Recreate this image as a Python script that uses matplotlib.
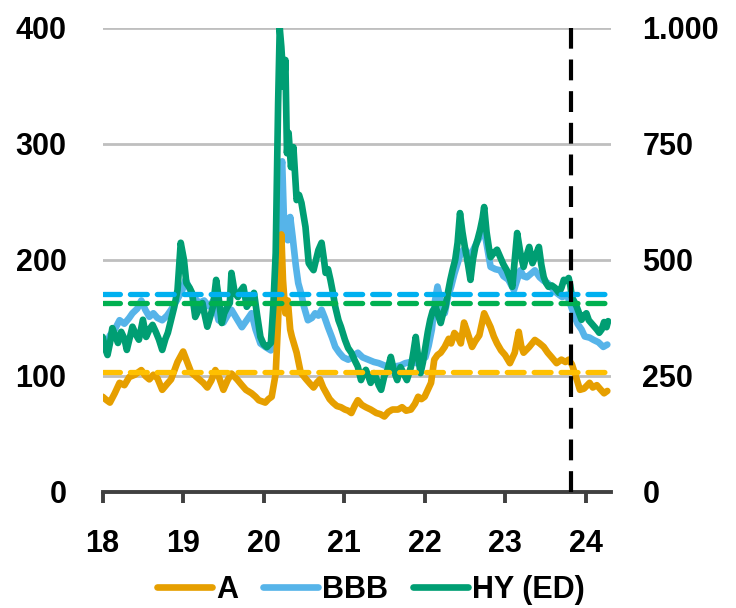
import matplotlib.pyplot as plt

plt.rcParams['font.family'] = ['Liberation Sans', 'DejaVu Sans']
plt.rcParams['font.weight'] = 'bold'

# A (left axis, bp)
a_years = [18.00, 18.05, 18.09, 18.15, 18.21, 18.27, 18.33, 18.40, 18.48, 18.53, 18.58, 18.63, 18.68,
           18.74, 18.80, 18.85, 18.93, 19.00, 19.05, 19.10, 19.15, 19.20, 19.25, 19.30, 19.35, 19.40,
           19.45, 19.50, 19.55, 19.60, 19.67, 19.73, 19.78, 19.85, 19.90, 19.94, 20.02, 20.06, 20.10,
           20.15, 20.18, 20.20, 20.22, 20.24, 20.27, 20.30, 20.33, 20.35, 20.41, 20.46, 20.53, 20.58,
           20.62, 20.66, 20.70, 20.74, 20.78, 20.82, 20.86, 20.91, 20.96, 21.01, 21.05, 21.09, 21.13,
           21.17, 21.22, 21.27, 21.33, 21.40, 21.45, 21.50, 21.55, 21.60, 21.67, 21.72, 21.77, 21.83,
           21.88, 21.92, 21.96, 22.00, 22.04, 22.08, 22.12, 22.16, 22.20, 22.25, 22.30, 22.33, 22.37,
           22.41, 22.45, 22.49, 22.53, 22.59, 22.63, 22.68, 22.74, 22.78, 22.82, 22.86, 22.90, 22.95,
           23.00, 23.06, 23.12, 23.17, 23.20, 23.23, 23.30, 23.37, 23.43, 23.48, 23.53, 23.58, 23.64,
           23.70, 23.75, 23.79, 23.83, 23.89, 23.93, 23.98, 24.05, 24.09, 24.14, 24.19, 24.23, 24.27]
a_vals = [82, 79, 77, 85, 94, 92, 99, 101, 105, 100, 97, 101, 98,
          88, 93, 97, 112, 121, 112, 103, 100, 97, 94, 90, 96, 105,
          98, 88, 96, 102, 97, 92, 88, 85, 82, 79, 77, 80, 82,
          102, 148, 195, 222, 183, 154, 165, 140, 134, 120, 103, 97, 93,
          90, 94, 97, 90, 85, 80, 77, 74, 73, 71, 70, 68, 74,
          79, 75, 73, 71, 68, 67, 65, 69, 71, 71, 73, 70, 71,
          76, 82, 80, 82, 88, 94, 114, 118, 120, 125, 132, 128, 137,
          134, 128, 146, 138, 125, 130, 135, 154, 148, 142, 134, 128, 122,
          118, 111, 120, 138, 126, 120, 125, 131, 128, 125, 120, 116, 111,
          114, 112, 114, 110, 97, 88, 89, 94, 90, 92, 88, 85, 87]

# BBB (left axis, bp)
bbb_years = [18.00, 18.04, 18.09, 18.15, 18.21, 18.27, 18.33, 18.37, 18.43, 18.48, 18.53, 18.58, 18.63,
             18.68, 18.74, 18.80, 18.85, 18.92, 18.99, 19.03, 19.08, 19.13, 19.20, 19.26, 19.32, 19.38,
             19.44, 19.50, 19.55, 19.60, 19.66, 19.73, 19.79, 19.85, 19.90, 19.96, 20.02, 20.09, 20.13,
             20.15, 20.17, 20.19, 20.21, 20.23, 20.25, 20.27, 20.30, 20.33, 20.36, 20.40, 20.43, 20.47,
             20.50, 20.55, 20.60, 20.64, 20.68, 20.72, 20.76, 20.80, 20.85, 20.89, 20.94, 20.99, 21.05,
             21.10, 21.17, 21.23, 21.30, 21.37, 21.43, 21.50, 21.56, 21.62, 21.70, 21.76, 21.83, 21.90,
             21.96, 22.01, 22.05, 22.09, 22.13, 22.16, 22.20, 22.25, 22.29, 22.33, 22.37, 22.41, 22.45,
             22.50, 22.55, 22.60, 22.65, 22.70, 22.74, 22.78, 22.82, 22.88, 22.94, 22.98, 23.04, 23.11,
             23.16, 23.19, 23.23, 23.27, 23.32, 23.37, 23.43, 23.48, 23.53, 23.60, 23.65, 23.71, 23.77,
             23.81, 23.85, 23.90, 23.95, 23.99, 24.05, 24.10, 24.16, 24.22, 24.27]
bbb_vals = [131, 125, 135, 140, 148, 145, 150, 154, 158, 165, 157, 151, 154,
            150, 148, 152, 157, 165, 174, 183, 175, 168, 163, 165, 160, 165,
            148, 146, 152, 157, 150, 142, 148, 154, 140, 128, 125, 122, 133,
            148, 180, 230, 275, 285, 240, 223, 217, 237, 220, 195, 180, 170,
            160, 148, 150, 154, 152, 157, 150, 142, 133, 125, 120, 116, 114,
            116, 120, 116, 114, 112, 111, 109, 108, 108, 109, 111, 112, 111,
            114, 116, 126, 140, 165, 177, 165, 154, 168, 177, 188, 197, 206,
            210, 203, 208, 215, 222, 226, 210, 194, 192, 191, 186, 183, 174,
            185, 191, 186, 185, 188, 191, 185, 182, 180, 174, 171, 168, 170,
            162, 154, 145, 140, 134, 133, 131, 129, 125, 127]

# HY (ED) (right axis, bp)
hy_years = [18.00, 18.03, 18.06, 18.09, 18.12, 18.16, 18.19, 18.23, 18.27, 18.30, 18.34, 18.37, 18.41,
            18.45, 18.50, 18.54, 18.58, 18.62, 18.66, 18.70, 18.74, 18.78, 18.81, 18.85, 18.89, 18.93,
            18.97, 19.01, 19.04, 19.08, 19.11, 19.15, 19.20, 19.24, 19.27, 19.30, 19.34, 19.37, 19.41,
            19.44, 19.48, 19.51, 19.55, 19.58, 19.60, 19.64, 19.68, 19.72, 19.75, 19.79, 19.83, 19.88,
            19.92, 19.96, 20.00, 20.04, 20.09, 20.12, 20.15, 20.17, 20.18, 20.20, 20.22, 20.25, 20.27,
            20.29, 20.31, 20.34, 20.37, 20.41, 20.44, 20.47, 20.52, 20.56, 20.59, 20.62, 20.65, 20.68,
            20.72, 20.75, 20.77, 20.80, 20.83, 20.86, 20.89, 20.93, 20.96, 21.01, 21.05, 21.09, 21.13,
            21.17, 21.21, 21.24, 21.27, 21.30, 21.33, 21.37, 21.40, 21.43, 21.46, 21.50, 21.54, 21.58,
            21.62, 21.66, 21.70, 21.74, 21.78, 21.83, 21.86, 21.89, 21.92, 21.95, 21.98, 22.01, 22.04,
            22.07, 22.10, 22.14, 22.17, 22.20, 22.23, 22.26, 22.29, 22.32, 22.35, 22.38, 22.41, 22.44,
            22.47, 22.50, 22.54, 22.57, 22.60, 22.63, 22.66, 22.69, 22.72, 22.74, 22.77, 22.80, 22.82,
            22.86, 22.90, 22.94, 22.98, 23.02, 23.06, 23.09, 23.12, 23.15, 23.19, 23.23, 23.26, 23.30,
            23.34, 23.38, 23.42, 23.45, 23.48, 23.51, 23.54, 23.58, 23.62, 23.67, 23.70, 23.73, 23.76,
            23.79, 23.81, 23.83, 23.86, 23.89, 23.92, 23.95, 23.98, 24.01, 24.04, 24.07, 24.11, 24.14,
            24.17, 24.20, 24.23, 24.26, 24.28]
hy_vals = [334, 310, 295, 320, 353, 335, 321, 345, 330, 306, 335, 356, 340,
           328, 371, 334, 350, 360, 345, 328, 306, 330, 343, 371, 399, 435,
           537, 500, 450, 440, 429, 377, 395, 407, 380, 356, 380, 399, 457,
           420, 364, 385, 399, 407, 472, 430, 420, 435, 442, 399, 410, 429,
           380, 334, 318, 312, 321, 399, 515, 730, 838, 1000, 959, 873, 931,
           730, 774, 700, 743, 629, 640, 623, 571, 493, 485, 478, 500, 521,
           537, 500, 472, 480, 457, 430, 399, 370, 356, 328, 310, 300, 284,
           270, 241, 255, 263, 250, 235, 256, 245, 230, 220, 250, 263, 291,
           260, 241, 269, 255, 241, 269, 300, 334, 290, 256, 280, 312, 345,
           371, 390, 399, 380, 364, 385, 399, 430, 457, 480, 500, 537, 601,
           560, 528, 490, 457, 500, 528, 545, 565, 590, 614, 560, 525, 506,
           515, 522, 506, 490, 478, 460, 442, 500, 558, 515, 485, 505, 528,
           493, 510, 528, 490, 463, 450, 442, 445, 440, 429, 440, 457, 455,
           461, 445, 420, 410, 399, 385, 371, 380, 385, 370, 364, 356, 350,
           343, 350, 366, 355, 368]

avg_a = 103.5
avg_bbb = 171
avg_hy = 408
cutoff = 23.82

year_ticks = [18, 19, 20, 21, 22, 23, 24]
year_labels = ['18', '19', '20', '21', '22', '23', '24']
left_ticks = [0, 100, 200, 300, 400]
right_ticks = [0, 250, 500, 750, 1000]
right_labels = ['0', '250', '500', '750', '1.000']

c_a = '#E69F00'
c_bbb = '#56B4E9'
c_hy = '#009E73'
lw_series = 4.8

fig = plt.figure(figsize=(7.36, 6.08), dpi=100)
ax = fig.add_axes([0.1395, 0.191, 0.690, 0.763])
ax2 = ax.twinx()

ax.plot(a_years, a_vals, color=c_a, lw=lw_series, solid_joinstyle='round', solid_capstyle='round',
        label='A', zorder=3)
ax.plot(bbb_years, bbb_vals, color=c_bbb, lw=lw_series, solid_joinstyle='round', solid_capstyle='round',
        label='BBB', zorder=2)
ax2.plot(hy_years, hy_vals, color=c_hy, lw=lw_series, solid_joinstyle='round', solid_capstyle='round',
         label='HY (ED)', zorder=2)

# averages drawn above all series
ax2.plot([18, 24.31], [avg_bbb, avg_bbb], transform=ax.transData, color='#00B0F0', lw=3.8,
         dashes=[3.2, 1.9], dash_capstyle='round', zorder=4)
ax2.plot([18, 24.31], [avg_hy, avg_hy], color='#00B050', lw=3.8,
         dashes=[3.2, 1.9], dash_capstyle='round', zorder=4)
ax2.plot([18, 24.31], [avg_a, avg_a], transform=ax.transData, color='#FFC000', lw=3.8,
         dashes=[3.2, 1.9], dash_capstyle='round', zorder=4)
ax2.axvline(cutoff, color='black', lw=3, dashes=[5, 2.6], zorder=5)

ax.set_xlim(18, 24.31)
ax.set_ylim(0, 400)
ax2.set_ylim(0, 1000)

ax.set_yticks(left_ticks)
ax.set_yticklabels([str(t) for t in left_ticks])
ax2.set_yticks(right_ticks)
ax2.set_yticklabels(right_labels)
ax.set_xticks(year_ticks)
ax.set_xticklabels(year_labels)

ax.grid(axis='y', color='#BFBFBF', lw=2)
ax.set_axisbelow(True)

for a in (ax, ax2):
    for s in ('top', 'left', 'right'):
        a.spines[s].set_visible(False)
ax2.spines['bottom'].set_visible(False)
ax.spines['bottom'].set_color('#404040')
ax.spines['bottom'].set_linewidth(2.8)
ax.spines['bottom'].set_zorder(6)

ax.tick_params(axis='y', length=0, pad=26, labelsize=22)
ax2.tick_params(axis='y', length=0, pad=23, labelsize=22)
ax.tick_params(axis='x', length=8, width=2.8, color='#404040', pad=19, labelsize=22)

h1, l1 = ax.get_legend_handles_labels()
h2, l2 = ax2.get_legend_handles_labels()
fig.legend(h1 + h2, l1 + l2, loc='center', bbox_to_anchor=(0.504, 0.03), ncol=3,
           frameon=False, fontsize=22, handlelength=1.8, handletextpad=0.15, columnspacing=0.8)

plt.savefig('out.png', dpi=100)
